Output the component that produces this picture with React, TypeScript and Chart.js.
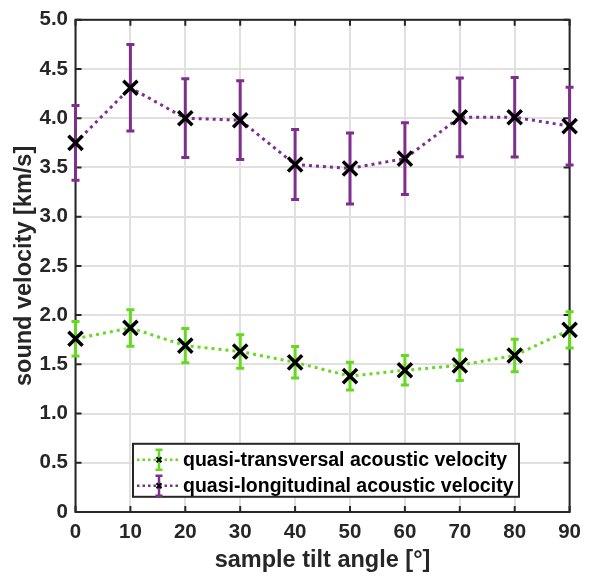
import React, { useEffect, useRef } from "react";
import { Chart, registerables } from "chart.js";

Chart.register(...registerables);

const angles = [0, 10, 20, 30, 40, 50, 60, 70, 80, 90];
const transversal = [1.76, 1.87, 1.69, 1.63, 1.52, 1.38, 1.44, 1.49, 1.59, 1.85];
const transversalErr = [0.175, 0.185, 0.175, 0.17, 0.16, 0.14, 0.15, 0.155, 0.165, 0.185];
const longitudinal = [3.75, 4.31, 4.0, 3.98, 3.53, 3.49, 3.59, 4.01, 4.01, 3.92];
const longitudinalErr = [0.38, 0.44, 0.4, 0.4, 0.355, 0.36, 0.365, 0.4, 0.405, 0.395];
const xTickLabels = ["0", "10", "20", "30", "40", "50", "60", "70", "80", "90"];
const yTickLabels = ["0", "0.5", "1.0", "1.5", "2.0", "2.5", "3.0", "3.5", "4.0", "4.5", "5.0"];
const seriesNames = ["quasi-transversal acoustic velocity", "quasi-longitudinal acoustic velocity"];

const GREEN = "#66D91E";
const PURPLE = "#7E2F8E";
const DARK = "#262626";
const FONT = "'Liberation Sans', Arial, Helvetica, sans-serif";

const framePlugin = {
  id: "frameAndErrors",
  beforeDatasetsDraw(chart: any) {
    const { ctx, chartArea: a, scales } = chart;
    const xs = scales.x;
    const ys = scales.y;
    ctx.save();
    ctx.strokeStyle = DARK;
    ctx.lineWidth = 2;
    ctx.strokeRect(a.left, a.top, a.right - a.left, a.bottom - a.top);
    const tl = 6;
    ctx.beginPath();
    xs.ticks.forEach((t: any) => {
      const px = xs.getPixelForValue(t.value);
      ctx.moveTo(px, a.bottom);
      ctx.lineTo(px, a.bottom - tl);
      ctx.moveTo(px, a.top);
      ctx.lineTo(px, a.top + tl);
    });
    ys.ticks.forEach((t: any) => {
      const py = ys.getPixelForValue(t.value);
      ctx.moveTo(a.left, py);
      ctx.lineTo(a.left + tl, py);
      ctx.moveTo(a.right, py);
      ctx.lineTo(a.right - tl, py);
    });
    ctx.stroke();

    // error bars
    chart.data.datasets.forEach((ds: any) => {
      const errs: number[] = ds.errors;
      ctx.strokeStyle = ds.errColor;
      ctx.lineWidth = 3;
      ctx.lineCap = "butt";
      ds.data.forEach((p: any, i: number) => {
        const px = xs.getPixelForValue(p.x);
        const top = ys.getPixelForValue(p.y + errs[i]);
        const bot = ys.getPixelForValue(p.y - errs[i]);
        const cw = 4;
        ctx.beginPath();
        ctx.moveTo(px, top);
        ctx.lineTo(px, bot);
        ctx.moveTo(px - cw, top);
        ctx.lineTo(px + cw, top);
        ctx.moveTo(px - cw, bot);
        ctx.lineTo(px + cw, bot);
        ctx.stroke();
      });
    });
    ctx.restore();
  },
  afterDraw(chart: any) {
    const { ctx, chartArea: a } = chart;
    const left = a.left + 57.5;
    const right = a.left + 443.5;
    const top = a.top + 424;
    const bottom = a.top + 477;
    ctx.save();
    ctx.fillStyle = "#ffffff";
    ctx.fillRect(left, top, right - left, bottom - top);
    ctx.strokeStyle = DARK;
    ctx.lineWidth = 2;
    ctx.strokeRect(left, top, right - left, bottom - top);
    const colors = [GREEN, PURPLE];
    const rows = [top + 16, top + 42];
    rows.forEach((ry, i) => {
      const c = colors[i];
      ctx.strokeStyle = c;
      ctx.lineWidth = 2.5;
      ctx.setLineDash([2.5, 3]);
      ctx.beginPath();
      ctx.moveTo(left + 4, ry);
      ctx.lineTo(left + 45, ry);
      ctx.stroke();
      ctx.setLineDash([]);
      const cx = left + 26;
      ctx.lineWidth = 2.5;
      ctx.beginPath();
      ctx.moveTo(cx, ry - 10);
      ctx.lineTo(cx, ry + 10);
      ctx.moveTo(cx - 3.5, ry - 10);
      ctx.lineTo(cx + 3.5, ry - 10);
      ctx.moveTo(cx - 3.5, ry + 10);
      ctx.lineTo(cx + 3.5, ry + 10);
      ctx.stroke();
      ctx.strokeStyle = "#000";
      ctx.lineWidth = 2;
      ctx.beginPath();
      ctx.moveTo(cx - 2.5, ry - 2.5);
      ctx.lineTo(cx + 2.5, ry + 2.5);
      ctx.moveTo(cx + 2.5, ry - 2.5);
      ctx.lineTo(cx - 2.5, ry + 2.5);
      ctx.stroke();
      ctx.fillStyle = "#000";
      ctx.font = `bold 19.5px ${FONT}`;
      ctx.textBaseline = "middle";
      ctx.textAlign = "left";
      ctx.fillText(seriesNames[i], left + 50, ry + 1);
    });
    ctx.restore();
  },
};

export default function App() {
  const ref = useRef<HTMLCanvasElement | null>(null);
  useEffect(() => {
    document.body.style.margin = "0";
    if (!ref.current) return;
    const mk = (vals: number[]) => angles.map((a, i) => ({ x: a, y: vals[i] }));
    const chart = new Chart(ref.current, {
      type: "line",
      data: {
        datasets: [
          {
            label: seriesNames[0],
            data: mk(transversal),
            errors: transversalErr,
            errColor: GREEN,
            borderColor: GREEN,
            borderWidth: 3,
            borderDash: [3, 4],
            pointStyle: "crossRot",
            pointRadius: 10,
            pointBorderWidth: 3.5,
            pointBorderColor: "#000",
            pointBackgroundColor: "#000",
            clip: false,
          } as any,
          {
            label: seriesNames[1],
            data: mk(longitudinal),
            errors: longitudinalErr,
            errColor: PURPLE,
            borderColor: PURPLE,
            borderWidth: 3,
            borderDash: [3, 4],
            pointStyle: "crossRot",
            pointRadius: 10,
            pointBorderWidth: 3.5,
            pointBorderColor: "#000",
            pointBackgroundColor: "#000",
            clip: false,
          } as any,
        ],
      },
      options: {
        animation: false,
        responsive: true,
        maintainAspectRatio: false,
        layout: { padding: { left: 0, right: 13.5, top: 13, bottom: 0 } },
        plugins: { legend: { display: false }, tooltip: { enabled: false } },
        scales: {
          x: {
            type: "linear",
            min: 0,
            max: 90,
            afterFit: (s: any) => {
              s.height = 70;
            },
            afterBuildTicks: (s: any) => {
              s.ticks = angles.map((v) => ({ value: v }));
            },
            ticks: {
              padding: 8,
              color: DARK,
              font: { family: FONT, size: 20.5, weight: "bold" },
              callback: (_v: any, i: number) => xTickLabels[i],
              maxRotation: 0,
              autoSkip: false,
            },
            grid: { color: "#e0e0e0", lineWidth: 2, drawTicks: false },
            border: { display: false },
            title: {
              display: true,
              text: "sample tilt angle [°]",
              color: DARK,
              font: { family: FONT, size: 23.5, weight: "bold" },
              padding: { top: 0, bottom: 7 },
            },
          },
          y: {
            type: "linear",
            min: 0,
            max: 5,
            afterFit: (s: any) => {
              s.width = 75.5;
            },
            afterBuildTicks: (s: any) => {
              s.ticks = yTickLabels.map((_l, i) => ({ value: i * 0.5 }));
            },
            ticks: {
              padding: 7.5,
              color: DARK,
              font: { family: FONT, size: 20.5, weight: "bold" },
              callback: (_v: any, i: number) => yTickLabels[i],
              autoSkip: false,
            },
            grid: { color: "#e0e0e0", lineWidth: 2, drawTicks: false },
            border: { display: false },
            title: {
              display: true,
              text: "sound velocity [km/s]",
              color: DARK,
              font: { family: FONT, size: 23.5, weight: "bold" },
              padding: { top: 10, bottom: 0 },
            },
          },
        },
      },
      plugins: [framePlugin],
    } as any);
    return () => chart.destroy();
  }, []);
  return (
    <div style={{ width: 589, height: 582, position: "relative" }}>
      <canvas ref={ref} />
    </div>
  );
}
